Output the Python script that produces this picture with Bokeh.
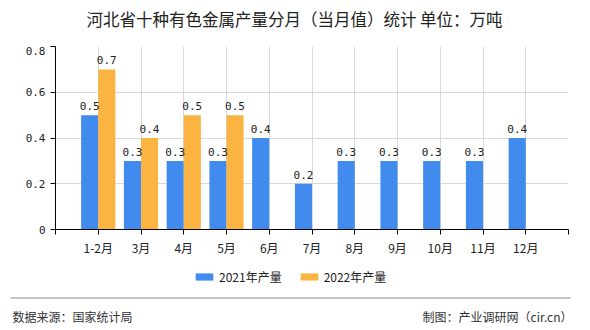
from bokeh.plotting import figure
from bokeh.layouts import column
from bokeh.models import (ColumnDataSource, FixedTicker, Legend, LegendItem, Range1d)
from bokeh.core.properties import value
from bokeh.embed import file_html
from bokeh.resources import INLINE

months = ["1-2月", "3月", "4月", "5月", "6月", "7月", "8月", "9月", "10月", "11月", "12月"]
prod_2021 = [0.5, 0.3, 0.3, 0.3, 0.4, 0.2, 0.3, 0.3, 0.3, 0.3, 0.4]
prod_2022 = [0.7, 0.4, 0.5, 0.5]
y_ticks = [0, 0.2, 0.4, 0.6, 0.8]
title_text = "河北省十种有色金属产量分月（当月值）统计 单位：万吨"
series_names = ["2021年产量", "2022年产量"]
source_text = "数据来源：国家统计局"
credit_text = "制图：产业调研网（cir.cn）"
colors = ["#418AEE", "#FBB441"]

W, H = 590, 330
TOP_H = 46          # title strip
MAIN_BOTTOM = 262   # bottom of main chart (canvas px)
FL, FR, FB = 55, 568, 229
CJK = "Noto Sans CJK SC"


def blank(height, y0, y1):
    f = figure(width=W, height=height, output_backend="svg", toolbar_location=None,
               x_range=Range1d(0, W), y_range=Range1d(y1, y0),
               x_axis_location=None, y_axis_location=None, min_border=0,
               min_border_left=0, min_border_right=0, min_border_top=0, min_border_bottom=0,
               frame_align=False)
    f.grid.visible = False
    f.outline_line_color = None
    return f


# ---- title strip
pt = blank(TOP_H, 0, TOP_H)
pt.text(x=[294], y=[18], text=[title_text], text_align="center", text_baseline="middle",
        text_font=value(CJK), text_font_size="16.5px", text_color="#222222")

# ---- main chart
p = figure(width=W, height=MAIN_BOTTOM - TOP_H, output_backend="svg", toolbar_location=None,
           x_range=Range1d(0, len(months) + 1), y_range=Range1d(0, 0.8),
           min_border_left=FL, min_border_right=W - FR, min_border_top=0,
           min_border_bottom=MAIN_BOTTOM - FB, frame_align=False)
p.outline_line_color = None

bw = 0.4
pos21 = [i + 1 - bw / 2 for i in range(len(prod_2021))]
pos22 = [i + 1 + bw / 2 for i in range(len(prod_2022))]
s21 = ColumnDataSource(dict(x=pos21, top=prod_2021, lab=[f"{v:.1f}" for v in prod_2021]))
s22 = ColumnDataSource(dict(x=pos22, top=prod_2022, lab=[f"{v:.1f}" for v in prod_2022]))
p.vbar(x="x", top="top", width=bw, source=s21, fill_color=colors[0], line_color=None)
p.vbar(x="x", top="top", width=bw, source=s22, fill_color=colors[1], line_color=None)
for s in (s21, s22):
    p.text(x="x", y="top", text="lab", source=s, text_align="center", text_baseline="bottom",
           y_offset=-5, text_font=value("DejaVu Sans Mono"), text_font_size="11px",
           text_color="#222222")

p.xaxis.ticker = FixedTicker(ticks=list(range(len(months) + 2)))
over = {i + 1: m for i, m in enumerate(months)}
over[0] = ""
over[len(months) + 1] = ""
p.xaxis.major_label_overrides = over
p.xaxis.major_label_text_font = CJK
p.xaxis.major_label_text_font_size = "12px"
p.xaxis.major_label_standoff = 4
p.yaxis.ticker = FixedTicker(ticks=y_ticks)
p.yaxis.major_label_overrides = {0: "0", 0.2: "0.2", 0.4: "0.4", 0.6: "0.6", 0.8: "0.8"}
p.yaxis.major_label_text_font = "DejaVu Sans Mono"
p.yaxis.major_label_text_font_size = "11px"
for ax in (p.xaxis, p.yaxis):
    ax.major_label_text_color = "#222222"
    ax.major_tick_out = 5
    ax.major_tick_in = 0
    ax.minor_tick_line_color = None
    ax.axis_line_color = "black"
    ax.major_tick_line_color = "black"
p.xgrid.grid_line_color = "#d9d9d9"
p.ygrid.grid_line_color = "#d9d9d9"

# ---- footer strip (legend, rule, source texts)
FH = H - MAIN_BOTTOM
pf = blank(FH, MAIN_BOTTOM, H)
d21 = pf.vbar(x=[-100], top=[MAIN_BOTTOM], bottom=[MAIN_BOTTOM], width=1,
              fill_color=colors[0], line_color=None)
d22 = pf.vbar(x=[-100], top=[MAIN_BOTTOM], bottom=[MAIN_BOTTOM], width=1,
              fill_color=colors[1], line_color=None)
legend = Legend(items=[LegendItem(label=series_names[0], renderers=[d21]),
                       LegendItem(label=series_names[1], renderers=[d22])],
                orientation="horizontal", location=(193, FH - (277 - MAIN_BOTTOM) - 8),
                label_text_font=CJK, label_text_font_size="12px", label_text_color="#222222",
                glyph_width=22, glyph_height=9, spacing=16, label_standoff=4,
                border_line_color=None, background_fill_alpha=0, padding=4, margin=0)
pf.add_layout(legend)
pf.segment(x0=[10], y0=[297.5], x1=[570], y1=[297.5], line_color="#888888", line_width=1.2)
pf.text(x=[12], y=[316], text=[source_text], text_align="left", text_baseline="middle",
        text_font=value(CJK), text_font_size="12px", text_color="#333333")
pf.text(x=[572], y=[316], text=[credit_text], text_align="right", text_baseline="middle",
        text_font=value(CJK), text_font_size="12px", text_color="#333333")

layout = column(pt, p, pf, spacing=0)
open("out.html", "w").write(file_html(layout, INLINE))
